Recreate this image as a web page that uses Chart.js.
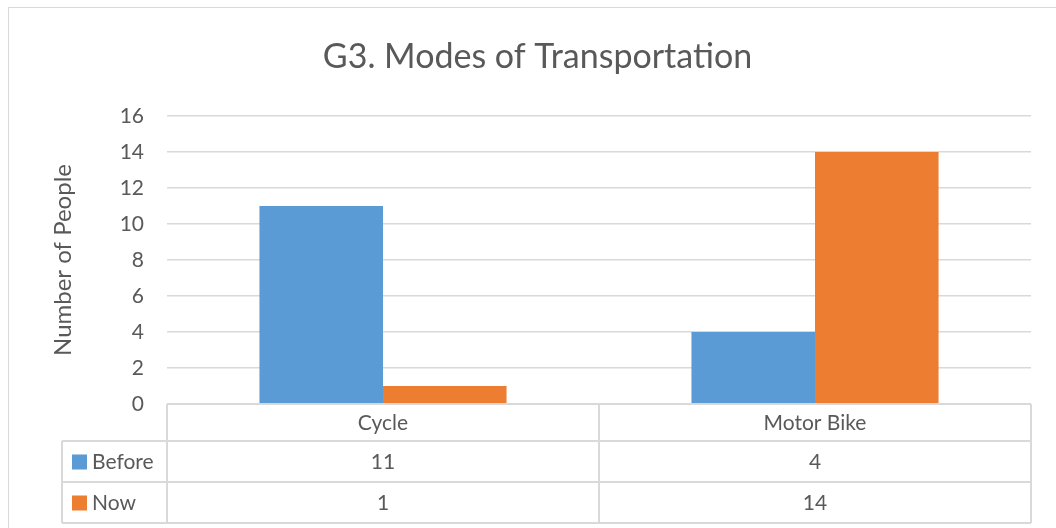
<!DOCTYPE html>
<html><head><meta charset="utf-8">
<script src="https://cdn.jsdelivr.net/npm/chart.js@4.4.0/dist/chart.umd.min.js"></script>
<style>
html,body{margin:0;padding:0;background:#fff;overflow:hidden;width:1056px;height:528px}
#frame{position:absolute;left:8px;top:7px;width:1100px;height:600px;border:1px solid #d9d9d9;box-sizing:border-box}
#wrap{position:absolute;left:0;top:0;width:1056px;height:528px}
</style></head><body>
<div id="frame"></div>
<div id="wrap"><canvas id="c" width="1056" height="528"></canvas></div>
<script>
const chartTitle = 'G3. Modes of Transportation';
const yAxisTitle = 'Number of People';
const categories = ['Cycle', 'Motor Bike'];
const seriesNames = ['Before', 'Now'];
const beforeValues = [11, 4];
const nowValues = [1, 14];
const yMin = 0, yMax = 16, yStep = 2;

const FONT = 'Lato, "Open Sans", sans-serif';
const TEXT = '#595959';
const LINE = '#d9d9d9';

const tablePlugin = {
  id: 'dataTable',
  afterDraw(chart) {
    const ctx = chart.ctx;
    const ca = chart.chartArea;
    const xs = chart.scales.x;
    const top = ca.bottom;
    const r1 = top + 37, r2 = r1 + 41, r3 = r2 + 41;
    const legendLeft = 62;
    ctx.save();
    ctx.strokeStyle = LINE;
    ctx.lineWidth = 2;
    const line = (x1, y1, x2, y2) => { ctx.beginPath(); ctx.moveTo(x1, y1); ctx.lineTo(x2, y2); ctx.stroke(); };
    line(ca.left, top, ca.right, top);
    line(legendLeft, r1, ca.right, r1);
    line(legendLeft, r2, ca.right, r2);
    line(legendLeft, r3, ca.right, r3);
    line(legendLeft, r1, legendLeft, r3);
    const n = categories.length;
    const bounds = [ca.left];
    for (let i = 0; i < n - 1; i++) bounds.push((xs.getPixelForValue(i) + xs.getPixelForValue(i + 1)) / 2);
    bounds.push(ca.right);
    bounds.forEach(x => line(x, top, x, r3));
    ctx.fillStyle = TEXT;
    ctx.font = '21px ' + FONT;
    ctx.textBaseline = 'middle';
    const rows = [r1 + 20.5, r2 + 20.5];
    chart.data.datasets.forEach((ds, di) => {
      const cy = rows[di];
      ctx.fillStyle = ds.backgroundColor;
      ctx.fillRect(72, cy - 7, 15, 15);
      ctx.fillStyle = TEXT;
      ctx.textAlign = 'left';
      ctx.fillText(ds.label, 92, cy + 1);
      ctx.textAlign = 'center';
      ds.data.forEach((v, i) => ctx.fillText(String(v), xs.getPixelForValue(i), cy + 1));
    });
    ctx.restore();
  }
};

new Chart(document.getElementById('c'), {
  type: 'bar',
  data: {
    labels: categories,
    datasets: [
      { label: seriesNames[0], data: beforeValues, backgroundColor: '#5B9BD5' },
      { label: seriesNames[1], data: nowValues, backgroundColor: '#ED7D31' }
    ]
  },
  options: {
    responsive: false,
    animation: false,
    devicePixelRatio: 1,
    layout: { padding: { left: 44, right: 25, top: 0, bottom: 5 } },
    datasets: { bar: { categoryPercentage: 0.572, barPercentage: 1.0 } },
    plugins: {
      legend: { display: false },
      tooltip: { enabled: false },
      title: {
        display: true, text: chartTitle, color: TEXT,
        font: { family: FONT, size: 34, weight: 'normal', lineHeight: 1.2 },
        padding: { top: 37, bottom: 38.2 }
      }
    },
    scales: {
      x: {
        grid: { display: false, drawTicks: false },
        border: { display: false },
        ticks: { color: TEXT, font: { family: FONT, size: 21 }, padding: 7 },
        afterFit(s) { s.height = 119; }
      },
      y: {
        min: yMin, max: yMax,
        grid: { color: LINE, lineWidth: 1.5, drawTicks: false },
        border: { display: false },
        ticks: { stepSize: yStep, color: TEXT, font: { family: FONT, size: 21 }, padding: 23 },
        title: { display: true, text: yAxisTitle, color: TEXT, font: { family: FONT, size: 24 }, padding: { top: 4.6 } },
        afterFit(s) { s.width = 123; }
      }
    }
  },
  plugins: [tablePlugin]
});
</script>
</body></html>
